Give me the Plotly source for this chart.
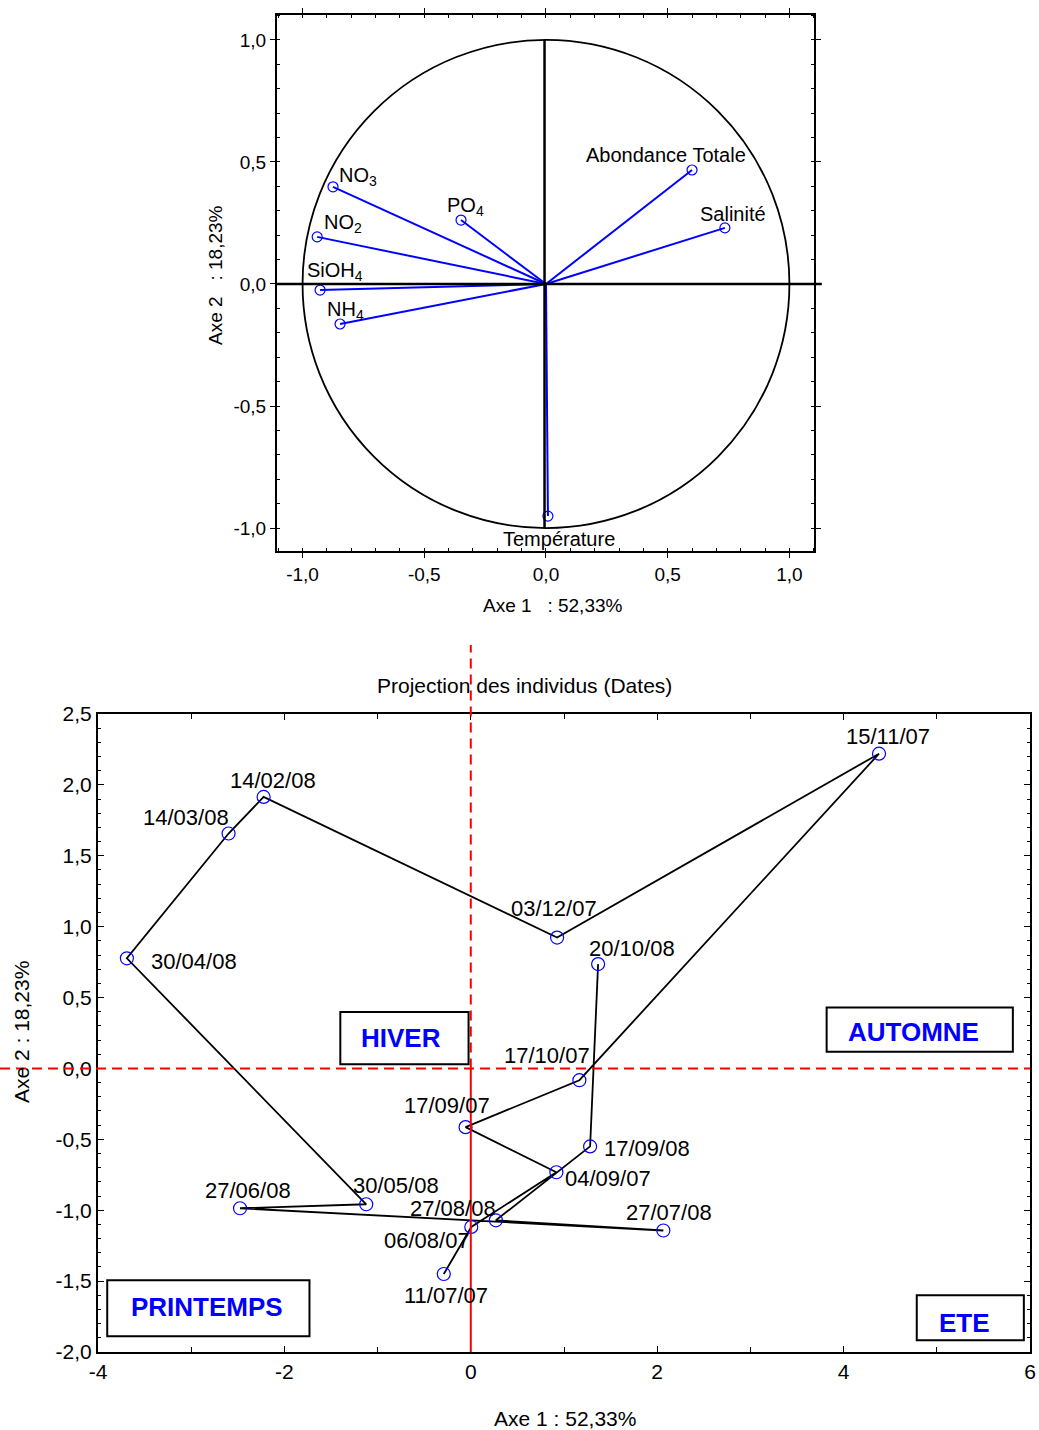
import numpy as np
import plotly.graph_objects as go

# ---- Cercle des corrélations : coordonnées des variables sur les axes 1 et 2
var_names = ["NO<sub>3</sub>", "PO<sub>4</sub>", "NO<sub>2</sub>", "SiOH<sub>4</sub>",
             "NH<sub>4</sub>", "Abondance Totale", "Salinité", "Température"]
var_axe1 = [-0.875, -0.349, -0.940, -0.928, -0.846, 0.600, 0.735, 0.008]
var_axe2 = [0.398, 0.262, 0.193, -0.025, -0.164, 0.467, 0.230, -0.951]

# ---- Projection des individus (dates de prélèvement, ordre chronologique)
dates = ["11/07/07", "06/08/07", "04/09/07", "17/09/07", "17/10/07", "15/11/07",
         "03/12/07", "14/02/08", "14/03/08", "30/04/08", "30/05/08", "27/06/08",
         "27/07/08", "27/08/08", "17/09/08", "20/10/08"]
ind_axe1 = [-0.29, 0.005, 0.918, -0.056, 1.165, 4.38, 0.926, -2.223, -2.599,
            -3.690, -1.122, -2.476, 2.066, 0.269, 1.280, 1.366]
ind_axe2 = [-1.45, -1.118, -0.732, -0.414, -0.083, 2.22, 0.923, 1.915, 1.657,
            0.777, -0.958, -0.986, -1.143, -1.071, -0.550, 0.736]

# ---- Graduations
corr_ticks = [-1, -0.5, 0, 0.5, 1]
corr_ticktext = ["-1,0", "-0,5", "0,0", "0,5", "1,0"]
ind_xticks = [-4, -2, 0, 2, 4, 6]
ind_xticktext = ["-4", "-2", "0", "2", "4", "6"]
ind_yticks = [-2, -1.5, -1, -0.5, 0, 0.5, 1, 1.5, 2, 2.5]
ind_yticktext = ["-2,0", "-1,5", "-1,0", "-0,5", "0,0", "0,5", "1,0", "1,5", "2,0", "2,5"]

# ---- Saisons (texte et cadre en coordonnées des axes)
saisons = ["HIVER", "AUTOMNE", "PRINTEMPS", "ETE"]
saison_cadres = [(-1.40, 0.030, -0.024, 0.399),
                 (3.818, 0.117, 5.816, 0.430),
                 (-3.901, -1.889, -1.731, -1.494),
                 (4.785, -1.917, 5.934, -1.600)]
saison_textes = [(-0.75, 0.215), (4.75, 0.26), (-2.83, -1.68), (5.30, -1.795)]

# Décalages (px) des étiquettes par rapport aux points
var_label_shift = [(25, 10), (4, 14), (26, 13), (15, 19), (5, 14), (-26, 15), (8, 14), (11, -23)]
date_label_shift = [(2, -21), (-44, -14), (52, -6), (-19, 22), (-32, 25), (9, 17),
                    (-3, 29), (9, 16), (-43, 16), (67, -3), (30, 19), (8, 18),
                    (6, 18), (-43, 12), (57, -2), (34, 16)]

FONT = "Liberation Sans, Arial, Helvetica, sans-serif"
BLUE = "#0000FF"
RED = "#FF0000"

W, H = 1039, 1430
top_x = [277 / W, 814 / W]
top_y = [1 - 551 / H, 1 - 15 / H]
bot_x = [98 / W, 1030 / W]
bot_y = [1 - 1352 / H, 1 - 714 / H]

x1_range = [-1.105, 1.101]
y1_range = [-1.094, 1.102]
x2_range = [-4, 6]
y2_range = [-2, 2.5]

fig = go.Figure()

# ---- Cercle des corrélations
for xv, yv in zip(var_axe1, var_axe2):
    fig.add_trace(go.Scatter(x=[0, xv], y=[0, yv], mode="lines",
                             line=dict(color=BLUE, width=2), showlegend=False,
                             hoverinfo="skip", xaxis="x", yaxis="y"))
fig.add_trace(go.Scatter(x=var_axe1, y=var_axe2, mode="markers",
                         marker=dict(symbol="circle-open", size=10, color=BLUE,
                                     line=dict(width=1.2)),
                         showlegend=False, xaxis="x", yaxis="y"))

# ---- Trajectoire des individus
fig.add_trace(go.Scatter(x=ind_axe1, y=ind_axe2, mode="lines",
                         line=dict(color="black", width=1.8),
                         showlegend=False, hoverinfo="skip", xaxis="x2", yaxis="y2"))
fig.add_trace(go.Scatter(x=ind_axe1, y=ind_axe2, mode="markers", text=dates,
                         marker=dict(symbol="circle-open", size=13, color=BLUE,
                                     line=dict(width=1.2)),
                         showlegend=False, xaxis="x2", yaxis="y2"))

annotations = []
for name, xv, yv, (dx, dy) in zip(var_names, var_axe1, var_axe2, var_label_shift):
    annotations.append(dict(x=xv, y=yv, xref="x", yref="y", text=name, showarrow=False,
                            xanchor="center", yanchor="middle",
                            xshift=dx, yshift=dy, font=dict(family=FONT, size=20, color="black")))
for name, xv, yv, (dx, dy) in zip(dates, ind_axe1, ind_axe2, date_label_shift):
    annotations.append(dict(x=xv, y=yv, xref="x2", yref="y2", text=name, showarrow=False,
                            xanchor="center", yanchor="middle",
                            xshift=dx, yshift=dy, font=dict(family=FONT, size=22, color="black")))
for name, (tx, ty) in zip(saisons, saison_textes):
    annotations.append(dict(x=tx, y=ty, xref="x2", yref="y2", text="<b>" + name + "</b>",
                            xanchor="center", yanchor="middle",
                            showarrow=False, font=dict(family=FONT, size=26, color=BLUE)))

# Titres des axes et du graphique
titres = [
    dict(x=0.514, y=-0.1026, xref="x domain", yref="y domain",
         text="Axe 1\u00a0\u00a0 : 52,33%", font=dict(family=FONT, size=19, color="black")),
    dict(x=-0.1136, y=0.515, xref="x domain", yref="y domain", textangle=-90,
         text="Axe 2\u00a0\u00a0 : 18,23%", font=dict(family=FONT, size=19, color="black")),
    dict(x=0.501, y=-0.105, xref="x2 domain", yref="y2 domain",
         text="Axe 1 : 52,33%", font=dict(family=FONT, size=21, color="black")),
    dict(x=-0.0815, y=0.5016, xref="x2 domain", yref="y2 domain", textangle=-90,
         text="Axe 2 : 18,23%", font=dict(family=FONT, size=21, color="black")),
    dict(x=0.458, y=1.044, xref="x2 domain", yref="y2 domain",
         text="Projection des individus (Dates)", font=dict(family=FONT, size=21, color="black")),
]
for t in titres:
    t.update(showarrow=False, xanchor="center", yanchor="middle")
annotations += titres

shapes = []
# Cercle unité et axes passant par l'origine
shapes.append(dict(type="circle", xref="x", yref="y", x0=-1, y0=-1, x1=1, y1=1,
                   line=dict(color="black", width=1.8)))
y0_dom_top = (0 - y1_range[0]) / (y1_range[1] - y1_range[0])
shapes.append(dict(type="line", xref="x domain", yref="y domain",
                   x0=0, x1=(1.133 - x1_range[0]) / (x1_range[1] - x1_range[0]),
                   y0=y0_dom_top, y1=y0_dom_top, line=dict(color="black", width=2.5)))
shapes.append(dict(type="line", xref="x", yref="y", x0=-0.006, x1=-0.006, y0=-1.0, y1=1.0,
                   line=dict(color="black", width=2.5)))

# Axes rouges du plan factoriel
y0_dom_bot = (0 - y2_range[0]) / (y2_range[1] - y2_range[0])
x0_dom_bot = (0 - x2_range[0]) / (x2_range[1] - x2_range[0])
shapes.append(dict(type="line", xref="paper", yref="y2 domain", x0=0, x1=bot_x[1],
                   y0=y0_dom_bot, y1=y0_dom_bot, line=dict(color=RED, width=2, dash="10px,6px")))
shapes.append(dict(type="line", xref="x2 domain", yref="paper", x0=x0_dom_bot, x1=x0_dom_bot,
                   y0=bot_y[0] + y0_dom_bot * (bot_y[1] - bot_y[0]), y1=1 - 645 / H,
                   line=dict(color=RED, width=2, dash="10px,6px")))
shapes.append(dict(type="line", xref="x2", yref="y2", x0=0, x1=0, y0=y2_range[0], y1=0,
                   line=dict(color=RED, width=2)))

# Cadres des saisons
for (a, b, c, d) in saison_cadres:
    shapes.append(dict(type="rect", xref="x2", yref="y2", x0=a, y0=b, x1=c, y1=d,
                       fillcolor="white", line=dict(color="black", width=2), layer="above"))

axis_common = dict(showline=True, linecolor="black", linewidth=2, mirror="ticks",
                   showgrid=False, zeroline=False, tickcolor="black", automargin=False)

fig.update_layout(
    width=W, height=H,
    margin=dict(l=0, r=0, t=0, b=0, pad=0),
    paper_bgcolor="white", plot_bgcolor="white",
    showlegend=False,
    xaxis=dict(domain=top_x, range=x1_range, anchor="y", tickvals=corr_ticks,
               ticktext=corr_ticktext, ticks="outside", ticklen=5,
               tickfont=dict(family=FONT, size=19, color="black"),
               minor=dict(dtick=0.1, ticks="inside", ticklen=3, tickcolor="black"),
               **axis_common),
    yaxis=dict(domain=top_y, range=y1_range, anchor="x", tickvals=corr_ticks,
               ticktext=corr_ticktext, ticks="outside", ticklen=5,
               tickfont=dict(family=FONT, size=19, color="black"),
               minor=dict(dtick=0.1, ticks="inside", ticklen=3, tickcolor="black"),
               **axis_common),
    xaxis2=dict(domain=bot_x, range=x2_range, anchor="y2", tickvals=ind_xticks,
                ticktext=ind_xticktext, ticks="inside", ticklen=6,
                tickfont=dict(family=FONT, size=21, color="black"),
                minor=dict(dtick=1, ticks="inside", ticklen=5, tickcolor="black"),
                **axis_common),
    yaxis2=dict(domain=bot_y, range=y2_range, anchor="x2", tickvals=ind_yticks,
                ticktext=ind_yticktext, ticks="inside", ticklen=6,
                tickfont=dict(family=FONT, size=21, color="black"),
                minor=dict(dtick=0.1, ticks="inside", ticklen=3, tickcolor="black"),
                **axis_common),
    annotations=annotations,
    shapes=shapes,
)

fig.write_html("out.html")
